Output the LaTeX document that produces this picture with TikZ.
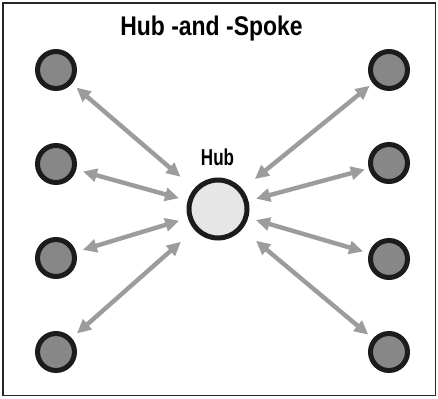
\documentclass[tikz,border=0pt]{standalone}
\usepackage{fontspec}
\setmainfont{Liberation Sans}
\usetikzlibrary{arrows.meta}
\definecolor{spokegray}{HTML}{9C9C9C}
\definecolor{leafgray}{HTML}{878787}
\definecolor{hubfill}{HTML}{E6E6E6}
\definecolor{ringcol}{HTML}{1C1C1C}
\begin{document}
\begin{tikzpicture}[x=1pt,y=-1pt,
  leaf/.style={circle,draw=ringcol,fill=leafgray,line width=5pt,minimum size=37pt,inner sep=0pt},
  hubnode/.style={circle,draw=ringcol,fill=hubfill,line width=5pt,minimum size=58pt,inner sep=0pt},
  spoke/.style={draw=spokegray,line width=4.4pt,
    {Triangle[length=14pt,width=13pt]}-{Triangle[length=14pt,width=13pt]}},
  heading/.style={font=\bfseries\fontsize{27}{27}\selectfont,xscale=0.85,inner sep=0pt,anchor=base},
  label/.style={font=\bfseries\fontsize{23}{23}\selectfont,xscale=0.74,inner sep=0pt,anchor=base}]
  \useasboundingbox (0,0) rectangle (438,398);
  \fill[white] (0,0) rectangle (438,398);
  \draw[line width=1.5pt,black!85] (3,3) rectangle (435.5,395.5);

  % title and hub
  \node[heading] (title) at (211.5,35.5) {Hub -and -Spoke};
  \node[hubnode] (hub) at (218,209) {};
  \node[label] (hublabel) at (217.5,165) {Hub};

  % outer nodes
  \node[leaf] (l1) at (56,70) {};
  \node[leaf] (l2) at (56,164) {};
  \node[leaf] (l3) at (56,258) {};
  \node[leaf] (l4) at (56,352) {};
  \node[leaf] (r1) at (389,70) {};
  \node[leaf] (r2) at (389,163) {};
  \node[leaf] (r3) at (389,259) {};
  \node[leaf] (r4) at (389,352) {};

  % spokes
  \draw[spoke,shorten <=6pt,shorten >=18pt] (l1) -- (hub);
  \draw[spoke,shorten <=7pt,shorten >=9pt] (l2) -- (hub);
  \draw[spoke,shorten <=7pt,shorten >=9pt] (l3) -- (hub);
  \draw[spoke,shorten <=7pt,shorten >=18pt] (l4) -- (hub);
  \draw[spoke,shorten <=4pt,shorten >=16pt] (r1) -- (hub);
  \draw[spoke,shorten <=4pt,shorten >=8pt] (r2) -- (hub);
  \draw[spoke,shorten <=6pt,shorten >=8pt] (r3) -- (hub);
  \draw[spoke,shorten <=6pt,shorten >=18pt] (r4) -- (hub);
\end{tikzpicture}
\end{document}
